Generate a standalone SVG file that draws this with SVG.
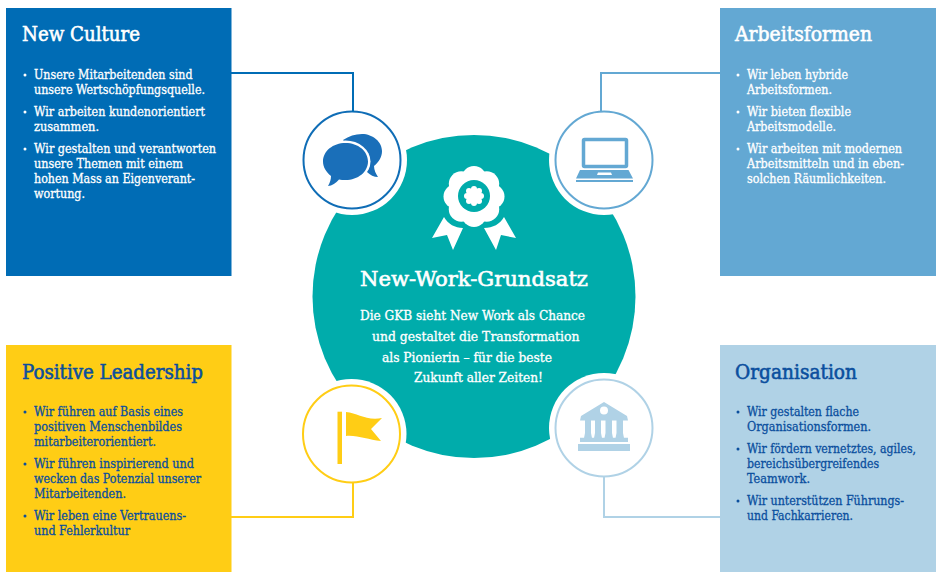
<svg xmlns="http://www.w3.org/2000/svg" width="936" height="572" viewBox="0 0 936 572">
<style>
text{font-family:"DejaVu Serif Condensed","DejaVu Serif","Liberation Serif",serif;fill:#fff;stroke:#fff}
.t{font-size:20.500px;stroke-width:.55px}
.b{font-size:12.800px;stroke-width:.3px}
.d text{fill:#0B4F9E;stroke:#0B4F9E}
.d circle{fill:#0B4F9E}
.w circle{fill:#fff}
.c{fill:none;stroke-width:2}
.h{fill:#fff}
.r{fill:none;stroke-width:2}
</style>
<rect width="936" height="572" fill="#fff"/>
<g id="core">
<circle cx="474" cy="296.500" r="161.500" fill="#00ACAB"/>
<g id="rosette" fill="#fff">
<circle cx="474" cy="196.500" r="24"/>
<circle cx="474" cy="178.500" r="12.500"/><circle cx="486.700" cy="183.800" r="12.500"/><circle cx="492" cy="196.500" r="12.500"/><circle cx="486.700" cy="209.200" r="12.500"/><circle cx="474" cy="214.500" r="12.500"/><circle cx="461.300" cy="209.200" r="12.500"/><circle cx="456" cy="196.500" r="12.500"/><circle cx="461.300" cy="183.800" r="12.500"/>
<circle cx="474" cy="196" r="16" fill="#00ACAB"/>
<circle cx="474" cy="196" r="7.500"/>
<circle cx="474" cy="189" r="3"/><circle cx="479" cy="191" r="3"/><circle cx="481" cy="196" r="3"/><circle cx="479" cy="201" r="3"/><circle cx="474" cy="203" r="3"/><circle cx="469" cy="201" r="3"/><circle cx="467" cy="196" r="3"/><circle cx="469" cy="191" r="3"/>
<path d="M444 217C448 224 455 228 463 228L453 250L447 235L432 238Z"/>
<path d="M504 217C500 224 493 228 484 228L496 250L501 235L516 238Z"/>
</g>
<text x="360" y="286" class="t" textLength="228" lengthAdjust="spacingAndGlyphs">New-Work-Grundsatz</text>
<text x="360" y="320" class="b" textLength="225" lengthAdjust="spacingAndGlyphs">Die GKB sieht New Work als Chance</text>
<text x="372" y="341" class="b" textLength="207.500" lengthAdjust="spacingAndGlyphs">und gestaltet die Transformation</text>
<text x="382" y="362" class="b" textLength="170" lengthAdjust="spacingAndGlyphs">als Pionierin – für die beste</text>
<text x="414" y="382" class="b" textLength="129" lengthAdjust="spacingAndGlyphs">Zukunft aller Zeiten!</text>
</g>
<g id="box-new-culture" class="w">
<rect x="6" y="8" width="225.500" height="268" fill="#006CB5"/>
<text x="22" y="41" class="t" textLength="118" lengthAdjust="spacingAndGlyphs">New Culture</text>
<circle cx="25" cy="75" r="1.500"/><circle cx="25" cy="112" r="1.500"/><circle cx="25" cy="149" r="1.500"/>
<text x="34" y="79" class="b" textLength="158.500" lengthAdjust="spacingAndGlyphs">Unsere Mitarbeitenden sind</text>
<text x="34" y="94" class="b" textLength="171" lengthAdjust="spacingAndGlyphs">unsere Wertschöpfungsquelle.</text>
<text x="34" y="116" class="b" textLength="171" lengthAdjust="spacingAndGlyphs">Wir arbeiten kundenorientiert</text>
<text x="34" y="131" class="b" textLength="65" lengthAdjust="spacingAndGlyphs">zusammen.</text>
<text x="34" y="153" class="b" textLength="182" lengthAdjust="spacingAndGlyphs">Wir gestalten und verantworten</text>
<text x="34" y="168" class="b" textLength="149" lengthAdjust="spacingAndGlyphs">unsere Themen mit einem</text>
<text x="34" y="183" class="b" textLength="161" lengthAdjust="spacingAndGlyphs">hohen Mass an Eigenverant-</text>
<text x="34" y="198" class="b" textLength="51" lengthAdjust="spacingAndGlyphs">wortung.</text>
</g>
<g id="box-arbeitsformen" class="w">
<rect x="720" y="8" width="216" height="268" fill="#63A8D3"/>
<text x="735" y="41" class="t" textLength="137" lengthAdjust="spacingAndGlyphs">Arbeitsformen</text>
<circle cx="738" cy="75" r="1.500"/><circle cx="738" cy="112" r="1.500"/><circle cx="738" cy="149" r="1.500"/>
<text x="747" y="79" class="b" textLength="101" lengthAdjust="spacingAndGlyphs">Wir leben hybride</text>
<text x="747" y="94" class="b" textLength="85" lengthAdjust="spacingAndGlyphs">Arbeitsformen.</text>
<text x="747" y="116" class="b" textLength="104" lengthAdjust="spacingAndGlyphs">Wir bieten flexible</text>
<text x="747" y="131" class="b" textLength="89" lengthAdjust="spacingAndGlyphs">Arbeitsmodelle.</text>
<text x="747" y="153" class="b" textLength="155" lengthAdjust="spacingAndGlyphs">Wir arbeiten mit modernen</text>
<text x="747" y="168" class="b" textLength="157" lengthAdjust="spacingAndGlyphs">Arbeitsmitteln und in eben-</text>
<text x="747" y="183" class="b" textLength="139" lengthAdjust="spacingAndGlyphs">solchen Räumlichkeiten.</text>
</g>
<g id="box-positive-leadership" class="d">
<rect x="6" y="345" width="225.500" height="227" fill="#FFCD15"/>
<text x="22" y="379" class="t" textLength="181" lengthAdjust="spacingAndGlyphs">Positive Leadership</text>
<circle cx="25" cy="412" r="1.500"/><circle cx="25" cy="464" r="1.500"/><circle cx="25" cy="516" r="1.500"/>
<text x="34" y="416" class="b" textLength="149" lengthAdjust="spacingAndGlyphs">Wir führen auf Basis eines</text>
<text x="34" y="431" class="b" textLength="148" lengthAdjust="spacingAndGlyphs">positiven Menschenbildes</text>
<text x="34" y="446" class="b" textLength="122" lengthAdjust="spacingAndGlyphs">mitarbeiterorientiert.</text>
<text x="34" y="468" class="b" textLength="160" lengthAdjust="spacingAndGlyphs">Wir führen inspirierend und</text>
<text x="34" y="483" class="b" textLength="167" lengthAdjust="spacingAndGlyphs">wecken das Potenzial unserer</text>
<text x="34" y="498" class="b" textLength="92" lengthAdjust="spacingAndGlyphs">Mitarbeitenden.</text>
<text x="34" y="520" class="b" textLength="152" lengthAdjust="spacingAndGlyphs">Wir leben eine Vertrauens-</text>
<text x="34" y="535" class="b" textLength="96" lengthAdjust="spacingAndGlyphs">und Fehlerkultur</text>
</g>
<g id="box-organisation" class="d">
<rect x="720" y="345" width="216" height="227" fill="#B0D2E6"/>
<text x="735" y="379" class="t" textLength="122" lengthAdjust="spacingAndGlyphs">Organisation</text>
<circle cx="738" cy="412" r="1.500"/><circle cx="738" cy="449" r="1.500"/><circle cx="738" cy="501" r="1.500"/>
<text x="747" y="416" class="b" textLength="112" lengthAdjust="spacingAndGlyphs">Wir gestalten flache</text>
<text x="747" y="431" class="b" textLength="124" lengthAdjust="spacingAndGlyphs">Organisationsformen.</text>
<text x="747" y="453" class="b" textLength="169" lengthAdjust="spacingAndGlyphs">Wir fördern vernetztes, agiles,</text>
<text x="747" y="468" class="b" textLength="132" lengthAdjust="spacingAndGlyphs">bereichsübergreifendes</text>
<text x="747" y="483" class="b" textLength="63" lengthAdjust="spacingAndGlyphs">Teamwork.</text>
<text x="747" y="505" class="b" textLength="157" lengthAdjust="spacingAndGlyphs">Wir unterstützen Führungs-</text>
<text x="747" y="520" class="b" textLength="106" lengthAdjust="spacingAndGlyphs">und Fachkarrieren.</text>
</g>
<g id="icon-new-culture">
<circle class="h" cx="352" cy="160" r="55"/>
<circle class="r" cx="352" cy="160" r="48.500" stroke="#0F6DB6"/>
<path fill="#1A6FB9" d="M343 140C349 136 355 134 362 134C373 134 382 142 382 151C382 157 379 162 374 166C374 170 376 174 378 177C374 177 370 175 367 172Z"/>
<ellipse cx="345.500" cy="161.500" rx="25" ry="21" fill="#fff"/>
<path fill="#1A6FB9" d="M345.500 143C358 143 368 151 368 161.500C368 172 358 180 345.500 180C343 180 341 180 339 179.500C336 183 332 186 328 186C330 183 331 179 331 176C326 172 323 167 323 161.500C323 151 333 143 345.500 143Z"/>
</g>
<g id="icon-arbeitsformen">
<circle class="h" cx="604" cy="160" r="55"/>
<circle class="r" cx="604" cy="160" r="48.500" stroke="#63A8D3"/>
<rect x="583.500" y="139.500" width="43" height="27" rx="1" fill="none" stroke="#63A8D3" stroke-width="3.500"/>
<path fill="#63A8D3" d="M580 170H628.500L633 178.500H576ZM598 172.500L597 175H612L611 172.500Z" fill-rule="evenodd"/>
<rect x="576" y="180" width="57" height="2" fill="#63A8D3"/>
</g>
<g id="icon-positive-leadership">
<circle class="h" cx="351.500" cy="434" r="55"/>
<circle class="r" cx="351.500" cy="434" r="48.500" stroke="#FFCD15"/>
<rect x="337.500" y="411.700" width="4.500" height="52.300" fill="#FFCD15"/>
<path fill="#FFCD15" d="M346 412C358 413 366 421 382 418L371 429L381 441C368 440 358 435 346 436Z"/>
</g>
<g id="icon-organisation">
<circle class="h" cx="604" cy="428" r="55"/>
<circle class="r" cx="604" cy="428" r="48.500" stroke="#B0D2E6"/>
<path fill="#B0D2E6" fill-rule="evenodd" d="M604 402L627 416L628 420.500H580L581 416ZM604 406.500A4 4 0 1 0 604 414.500A4 4 0 1 0 604 406.500Z"/>
<path fill="#B0D2E6" d="M585 420H591V433L592 438H584L585 433ZM595 420H601V433L602 438H594L595 433ZM605.500 420H612V433L613 438H604.500L605.500 433ZM616.500 420H623V433L624 438H615.500L616.500 433ZM580 437.700H628V442H580ZM578 444H630V451H578Z"/>
</g>
<g id="connectors">
<path class="c" stroke="#006CB5" d="M231 73H353V112"/>
<path class="c" stroke="#63A8D3" d="M720 73H601V112"/>
<path class="c" stroke="#FFCD15" d="M231 517H353V482"/>
<path class="c" stroke="#B0D2E6" d="M720 517H604V476"/>
</g>
</svg>
